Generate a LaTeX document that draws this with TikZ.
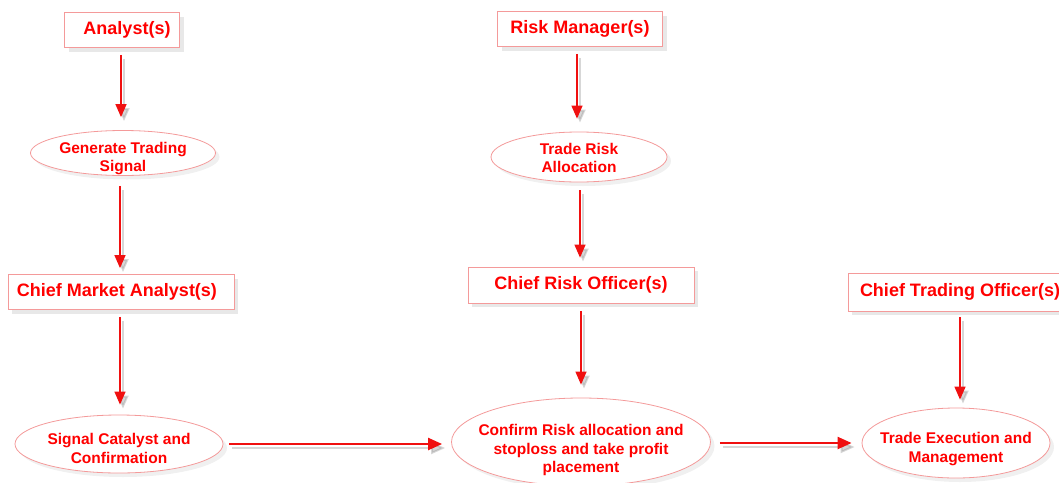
\documentclass[tikz,border=0pt]{standalone}
\usepackage{fontspec}
\setmainfont{Liberation Sans}
\usetikzlibrary{shapes.geometric,shadows,arrows.meta}
\definecolor{boxred}{HTML}{F49A9A}
\definecolor{txtred}{HTML}{FF0000}
\definecolor{arrred}{HTML}{F01010}
\begin{document}
\begin{tikzpicture}[x=1pt,y=-1pt,
  role/.style={draw=boxred, line width=0.8pt, fill=white, rectangle,
    minimum width=#1, minimum height=35pt, inner sep=0pt,
    font=\fontsize{18}{21}\selectfont\bfseries, text=txtred,
    drop shadow={opacity=0.18, shadow xshift=4pt, shadow yshift=-4pt}},
  task/.style={draw=boxred, line width=0.8pt, fill=white, ellipse,
    minimum width=#1, inner sep=0pt,
    drop shadow={opacity=0.12, shadow xshift=4pt, shadow yshift=-4pt}},
  tasktext/.style={inner sep=0pt, align=center,
    font=\fontsize{15.5}{18.5}\selectfont\bfseries, text=txtred},
  flow/.style={draw=arrred, line width=1.3pt,
    -{Triangle[length=13pt,width=11pt]},
    preaction={draw=black!45, opacity=0.35, line width=2pt,
      transform canvas={shift={(3pt,-4pt)}}}},
  hflow/.style={flow, line width=2.2pt,
    -{Triangle[length=14pt,width=12pt]}}
]
\useasboundingbox (0,0) rectangle (1059,482);

% role boxes
\node[role=115] (an)  at (122,30)  {\hspace*{10pt}Analyst(s)};
\node[role=165] (rm)  at (580,29)  {Risk Manager(s)};
\node[role=226] (cma) at (121,292) {Chief Market Analyst(s)\hspace*{8pt}};
\node[role=226, minimum height=36pt] (cro) at (581,285) {Chief Risk Officer(s)};
\node[role=216, minimum height=38pt] (cto) at (956,292) {\hspace*{8pt}Chief Trading Officer(s)};

% task ellipses
\node[task=185, minimum height=45pt] (gts) at (123,153) {};
\node[task=176, minimum height=50pt] (tra) at (579,157) {};
\node[task=208, minimum height=58pt] (scc) at (119,444) {};
\node[task=259, minimum height=88pt] (cra) at (581,442) {};
\node[task=188, minimum height=70pt] (tem) at (956,443) {};

% task texts
\node[tasktext] (gtsT) at ([yshift=-5.5pt]gts.center) {Generate Trading\\Signal};
\node[tasktext] (traT) at ([yshift=-1pt]tra.center) {Trade Risk\\Allocation};
\node[tasktext] (sccT) at ([yshift=-4.5pt]scc.center) {Signal Catalyst and\\Confirmation};
\node[tasktext] (craT) at ([yshift=-8pt]cra.center) {Confirm Risk allocation and\\stoploss and take profit\\placement};
\node[tasktext] (temT) at ([yshift=-6pt]tem.center) {Trade Execution and\\Management};

% vertical connectors
\draw[flow, shorten <=7pt, shorten >=13pt] ([xshift=-1pt]an.south) -- ([xshift=-2pt]gts.north);
\draw[flow, shorten <=10pt, shorten >=6pt] ([xshift=-3pt]gts.south) -- ([xshift=-1pt]cma.north);
\draw[flow, shorten <=7pt, shorten >=10pt] ([xshift=-1pt]cma.south) -- ([xshift=1pt]scc.north);
\draw[flow, shorten <=7pt, shorten >=13pt] ([xshift=-3pt]rm.south) -- ([xshift=-2pt]tra.north);
\draw[flow, shorten <=8pt, shorten >=9pt] ([xshift=1pt]tra.south) -- ([xshift=-1pt]cro.north);
\draw[flow, shorten <=8pt, shorten >=13pt] (cro.south) -- (cra.north);
\draw[flow, shorten <=6pt, shorten >=8pt] ([xshift=4pt]cto.south) -- ([xshift=4pt]tem.north);

% horizontal connectors
\draw[hflow, shorten <=6pt, shorten >=9pt] (scc.east) -- (scc.east -| cra.west);
\draw[hflow, shorten <=9pt, shorten >=10pt] ([yshift=-1pt]cra.east) -- ([yshift=-1pt]cra.east -| tem.west);
\end{tikzpicture}
\end{document}
